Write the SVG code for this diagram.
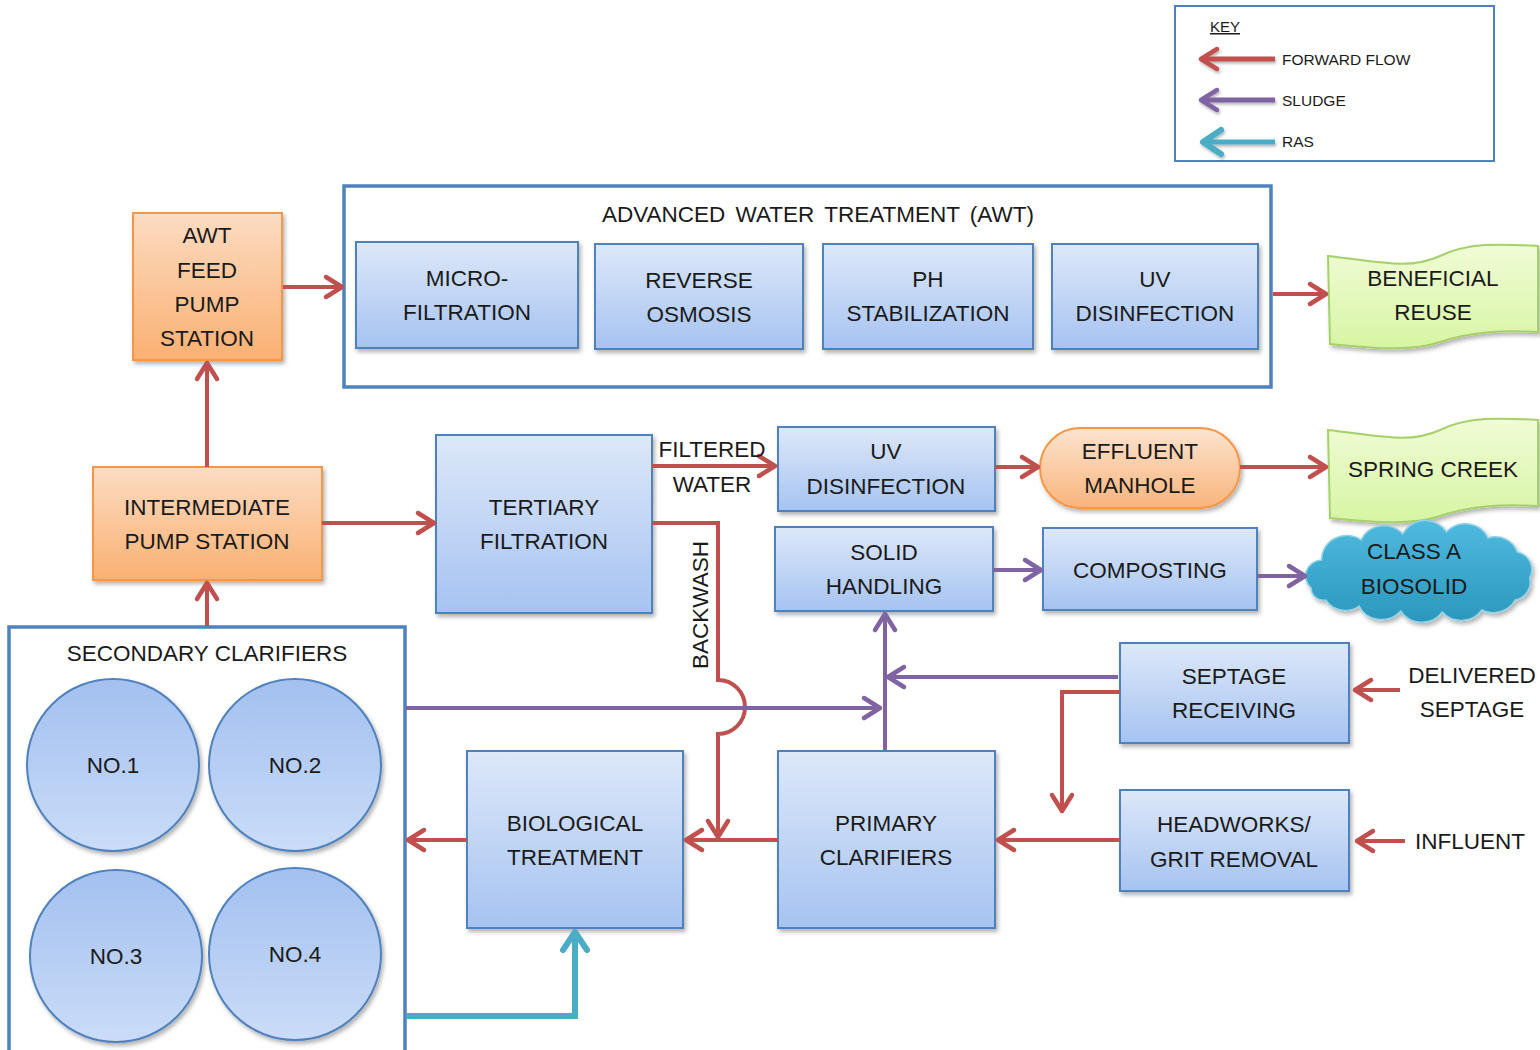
<svg xmlns="http://www.w3.org/2000/svg" width="1540" height="1050" viewBox="0 0 1540 1050">
<style>
text{font-family:"Liberation Sans",Arial,sans-serif;font-size:22.5px;fill:#1a1a1a;text-anchor:middle}
.box{fill:url(#gBlue);stroke:#4f81bd;stroke-width:2;filter:url(#sh)}
.obox{fill:url(#gOrange);stroke:#f79646;stroke-width:2;filter:url(#sh)}
.green{fill:url(#gGreen);stroke:#a6d16b;stroke-width:2;filter:url(#sh)}
.circ{fill:url(#gCirc);stroke:#4f81bd;stroke-width:2;filter:url(#sh)}
.frame{fill:#fff;stroke:#4f81bd;stroke-width:3.5}
.r{fill:none;stroke:#c0504d;stroke-width:4;marker-end:url(#aR)}
.p{fill:none;stroke:#8064a2;stroke-width:4;marker-end:url(#aP)}
.t{fill:none;stroke:#4bacc6;stroke-width:6;marker-end:url(#aT)}
.small{font-size:15.5px;text-anchor:start}
</style>
<defs>
<linearGradient id="gBlue" x1="0" y1="0" x2="0" y2="1"><stop offset="0" stop-color="#dde8f9"/><stop offset="1" stop-color="#a6c3f1"/></linearGradient>
<linearGradient id="gOrange" x1="0" y1="0" x2="0" y2="1"><stop offset="0" stop-color="#fcdcc2"/><stop offset="1" stop-color="#fab072"/></linearGradient>
<linearGradient id="gOrange2" x1="0" y1="0" x2="0" y2="1"><stop offset="0" stop-color="#fde4cf"/><stop offset="1" stop-color="#f9b47c"/></linearGradient>
<linearGradient id="gGreen" x1="0" y1="0" x2="0" y2="1"><stop offset="0" stop-color="#f0fcd6"/><stop offset="1" stop-color="#d7f5a3"/></linearGradient>
<linearGradient id="gCirc" x1="0" y1="0" x2="0" y2="1"><stop offset="0" stop-color="#a3c0f0"/><stop offset="1" stop-color="#cadcf8"/></linearGradient>
<linearGradient id="gCloud" x1="0" y1="0" x2="0" y2="1"><stop offset="0" stop-color="#4fbadf"/><stop offset="1" stop-color="#2b97bd"/></linearGradient>
<filter id="sh" x="-10%" y="-10%" width="130%" height="130%"><feDropShadow dx="2" dy="3" stdDeviation="2" flood-color="#000" flood-opacity="0.3"/></filter>
<filter id="ksh" x="-10%" y="-50%" width="130%" height="200%"><feDropShadow dx="1" dy="2" stdDeviation="1.5" flood-color="#000" flood-opacity="0.3"/></filter>
<marker id="aR" viewBox="-20 -14 24 28" refX="0" refY="0" markerWidth="24" markerHeight="28" markerUnits="userSpaceOnUse" orient="auto"><path d="M-16,-10 L0,0 L-16,10" fill="none" stroke="#c0504d" stroke-width="4.5" stroke-linecap="round" stroke-linejoin="round"/></marker>
<marker id="aP" viewBox="-20 -14 24 28" refX="0" refY="0" markerWidth="24" markerHeight="28" markerUnits="userSpaceOnUse" orient="auto"><path d="M-16,-10 L0,0 L-16,10" fill="none" stroke="#8064a2" stroke-width="4.5" stroke-linecap="round" stroke-linejoin="round"/></marker>
<marker id="aT" viewBox="-24 -16 28 32" refX="0" refY="0" markerWidth="28" markerHeight="32" markerUnits="userSpaceOnUse" orient="auto"><path d="M-18,-12 L0,0 L-18,12" fill="none" stroke="#4bacc6" stroke-width="6" stroke-linecap="round" stroke-linejoin="round"/></marker>
</defs>
<rect width="1540" height="1050" fill="#fff"/>

<g id="key">
<rect x="1175" y="6" width="319" height="155" fill="#fff" stroke="#4f81bd" stroke-width="2"/>
<text x="1210" y="32" class="small" style="font-size:15px;text-decoration:underline">KEY</text>
<g filter="url(#ksh)">
<path d="M1275,59 H1201" class="r" style="stroke-width:5"/>
<path d="M1275,100 H1201" class="p" style="stroke-width:5"/>
<path d="M1275,142 H1203" class="t" style="stroke-width:5"/>
</g>
<text x="1282" y="65" class="small">FORWARD FLOW</text>
<text x="1282" y="106" class="small">SLUDGE</text>
<text x="1282" y="147" class="small">RAS</text>
</g>

<g id="awt">
<rect x="344" y="186" width="927" height="201" fill="#fff" stroke="#4f81bd" stroke-width="3.5"/>
<text x="818" y="222" style="word-spacing:4px">ADVANCED WATER TREATMENT (AWT)</text>
</g>
<g id="microfiltration"><rect class="box" x="356" y="242" width="222" height="106"/><text x="467" y="286">MICRO-</text><text x="467" y="320">FILTRATION</text></g>
<g id="reverse-osmosis"><rect class="box" x="595" y="244" width="208" height="105"/><text x="699" y="288">REVERSE</text><text x="699" y="322">OSMOSIS</text></g>
<g id="ph-stabilization"><rect class="box" x="823" y="244" width="210" height="105"/><text x="928" y="287">PH</text><text x="928" y="321">STABILIZATION</text></g>
<g id="uv-awt"><rect class="box" x="1052" y="244" width="206" height="105"/><text x="1155" y="287">UV</text><text x="1155" y="321">DISINFECTION</text></g>

<g id="awt-feed"><rect class="obox" x="133" y="213" width="149" height="147"/><text x="207" y="243">AWT</text><text x="207" y="278">FEED</text><text x="207" y="312">PUMP</text><text x="207" y="346">STATION</text></g>

<g id="beneficial-reuse"><path class="green" d="M1328,256 C1380,262 1410,270 1440,256 C1470,242 1500,244 1538,246 L1538,332 C1500,330 1470,332 1440,342 C1410,352 1370,348 1330,344 Z"/><text x="1433" y="286">BENEFICIAL</text><text x="1433" y="320">REUSE</text></g>

<g id="spring-creek"><path class="green" d="M1328,430 C1380,436 1410,444 1440,430 C1470,416 1500,418 1538,420 L1538,506 C1500,504 1470,506 1440,516 C1410,526 1370,522 1330,518 Z"/><text x="1433" y="477">SPRING CREEK</text></g>

<g id="intermediate"><rect class="obox" x="93" y="467" width="229" height="113"/><text x="207" y="515">INTERMEDIATE</text><text x="207" y="549">PUMP STATION</text></g>

<g id="tertiary"><rect class="box" x="436" y="435" width="216" height="178"/><text x="544" y="515">TERTIARY</text><text x="544" y="549">FILTRATION</text></g>

<g id="uv-disinfection"><rect class="box" x="778" y="427" width="217" height="84"/><text x="886" y="459">UV</text><text x="886" y="494">DISINFECTION</text></g>

<g id="effluent-manhole"><rect x="1040" y="428" width="200" height="80" rx="40" fill="url(#gOrange2)" stroke="#f79646" stroke-width="2" filter="url(#sh)"/><text x="1140" y="459">EFFLUENT</text><text x="1140" y="493">MANHOLE</text></g>

<g id="solid-handling"><rect class="box" x="775" y="527" width="218" height="84"/><text x="884" y="560">SOLID</text><text x="884" y="594">HANDLING</text></g>

<g id="composting"><rect class="box" x="1043" y="528" width="214" height="82"/><text x="1150" y="578">COMPOSTING</text></g>

<g id="class-a-biosolid"><path transform="translate(1305,0) scale(1.04,1) translate(-1310,0)" d="M1316,588 A16,16 0 0 1 1326,560 A24,24 0 0 1 1364,540 A24,24 0 0 1 1404,534 A24,24 0 0 1 1446,532 A24,24 0 0 1 1486,538 A22,22 0 0 1 1514,552 A18,18 0 0 1 1526,578 A18,18 0 0 1 1512,600 A24,24 0 0 1 1480,610 A24,24 0 0 1 1442,612 A24,24 0 0 1 1402,611 A24,24 0 0 1 1362,606 A22,22 0 0 1 1330,600 A12,12 0 0 1 1316,588 Z" fill="url(#gCloud)" stroke="#8fd0e6" stroke-width="1.5" filter="url(#sh)"/><text x="1414" y="559">CLASS A</text><text x="1414" y="594">BIOSOLID</text></g>

<g id="septage-receiving"><rect class="box" x="1120" y="643" width="229" height="100"/><text x="1234" y="684">SEPTAGE</text><text x="1234" y="718">RECEIVING</text></g>
<g id="delivered-septage"><text x="1472" y="683">DELIVERED</text><text x="1472" y="717">SEPTAGE</text></g>

<g id="headworks"><rect class="box" x="1120" y="790" width="229" height="101"/><text x="1234" y="832">HEADWORKS/</text><text x="1234" y="867">GRIT REMOVAL</text></g>
<g id="influent"><text x="1470" y="849">INFLUENT</text></g>

<g id="primary-clarifiers"><rect class="box" x="778" y="751" width="217" height="177"/><text x="886" y="831">PRIMARY</text><text x="886" y="865">CLARIFIERS</text></g>

<g id="biological-treatment"><rect class="box" x="467" y="751" width="216" height="177"/><text x="575" y="831">BIOLOGICAL</text><text x="575" y="865">TREATMENT</text></g>

<g id="secondary-clarifiers">
<rect class="frame" x="9" y="627" width="396" height="440"/>
<text x="207" y="661">SECONDARY CLARIFIERS</text>
<circle class="circ" cx="113" cy="765" r="86"/><text x="113" y="773">NO.1</text>
<circle class="circ" cx="295" cy="765" r="86"/><text x="295" y="773">NO.2</text>
<circle class="circ" cx="116" cy="956" r="86"/><text x="116" y="964">NO.3</text>
<circle class="circ" cx="295" cy="954" r="86"/><text x="295" y="962">NO.4</text>
</g>

<g id="connectors">
<path class="r" d="M207,467 V363"/>
<path class="r" d="M207,626 V583"/>
<path class="r" d="M283,287 H342"/>
<path class="r" d="M1273,294 H1326"/>
<path class="r" d="M322,523 H434"/>
<path class="r" d="M652,466 H775"/>
<path class="r" d="M995,467 H1038"/>
<path class="r" d="M1240,467 H1326"/>
<path class="r" d="M652,523 H718 V680 A27,27 0 0 1 718,734 V837"/>
<path class="p" d="M406,708 H880"/>
<path class="p" d="M885,750 V614"/>
<path class="p" d="M1118,677 H888"/>
<path class="r" d="M1120,692 H1062 V811"/>
<path class="r" d="M1400,690 H1355"/>
<path class="r" d="M1405,841 H1357"/>
<path class="r" d="M1120,840 H998"/>
<path class="r" d="M778,840 H686"/>
<path class="r" d="M467,840 H408"/>
<path class="p" d="M993,570 H1041"/>
<path class="p" d="M1257,576 H1305"/>
<path class="t" d="M406,1016 H575 V932"/>
<text x="708" y="605" transform="rotate(-90 708 605)">BACKWASH</text>
<text x="712" y="457">FILTERED</text>
<text x="712" y="492">WATER</text>
</g>
</svg>
